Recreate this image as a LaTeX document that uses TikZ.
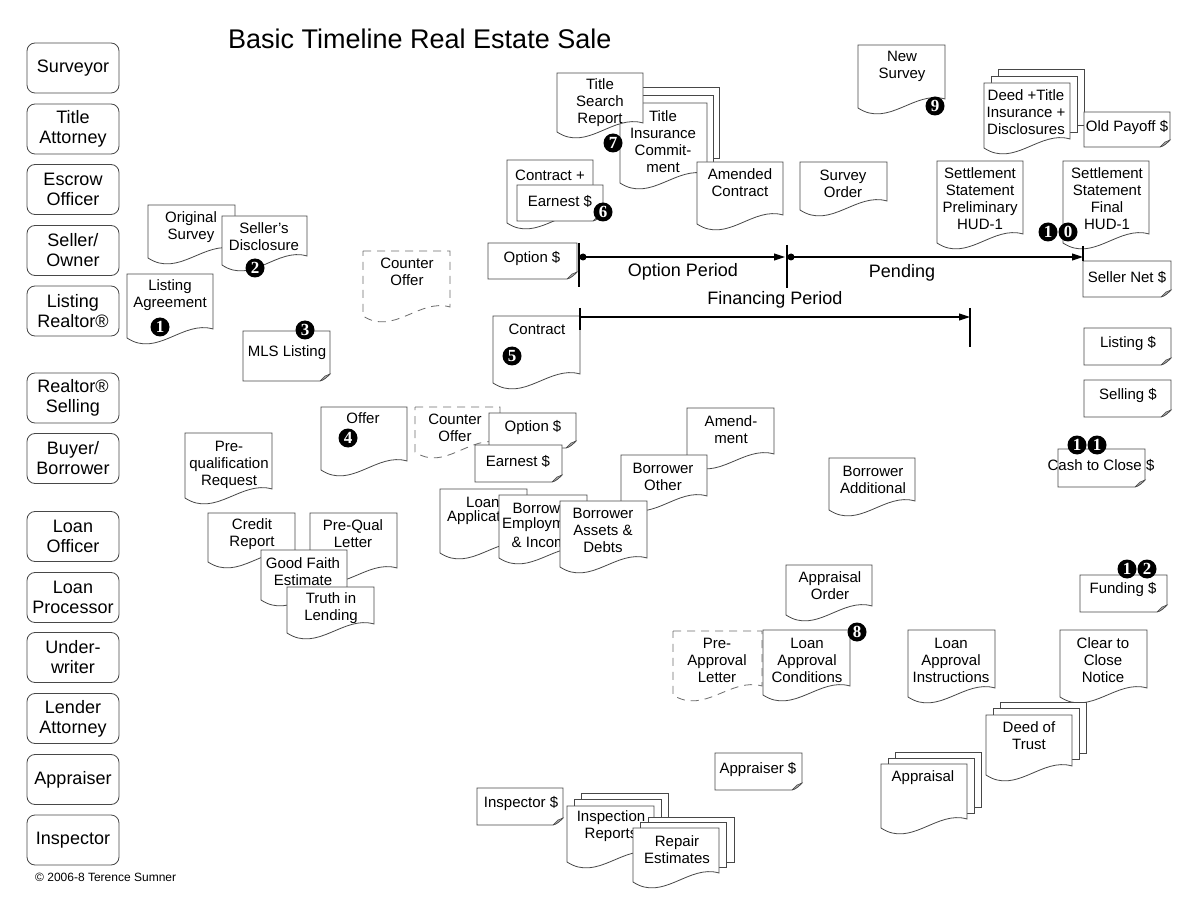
\documentclass[tikz,border=0pt]{standalone}
\usepackage{fontspec}
\setmainfont{Liberation Sans}
\newfontfamily\badgefont{Liberation Serif}
\usetikzlibrary{arrows.meta}
\definecolor{ln}{gray}{0.28}
\tikzset{
  shp/.style={draw=ln, line width=0.8pt, fill=white},
  rolebox/.style={draw=ln, line width=0.8pt, rounded corners=8pt, minimum width=92pt, minimum height=50pt, align=center, inner sep=0pt, font=\fontsize{18}{20}\selectfont},
  dl/.style={align=center, inner sep=0pt, font=\fontsize{15}{17}\selectfont},
  dlw/.style={anchor=west, inner sep=0pt, font=\fontsize{15}{17}\selectfont},
  tl/.style={inner sep=0pt, font=\fontsize{18}{20}\selectfont},
  badge/.style={circle, fill=black, inner sep=0pt, minimum size=19pt, text=white, font=\badgefont\bfseries\fontsize{17}{17}\selectfont},
  dsh/.style={draw=ln!80, dash pattern=on 8pt off 6pt},
  tline/.style={line width=1.1pt, draw=black},
  tip/.style={-{Triangle[length=11pt,width=7pt]}},
}
% document shape: [opts]{L}{T}{R}{B}
\newcommand\docu[5][]{\draw[shp,#1] (#2,#3) -- (#4,#3) -- (#4,{#5-9}) .. controls ({#4-0.35*(#4-#2)},{#5-18}) and ({#2+0.35*(#4-#2)},{#5+20}) .. (#2,#5) -- cycle;}
% note with curled corner: {L}{T}{R}{B}
\newcommand\notebx[4]{%
  \draw[shp] (#1,#2) -- (#3,#2) -- (#3,{#4-7}) .. controls ({#3-3},{#4-4}) and ({#3-6},{#4-1}) .. ({#3-10},#4) -- (#1,#4) -- cycle;
  \draw[draw=ln, line width=0.5pt, fill=black!35] ({#3-10},#4) -- ({#3-5},{#4-5}) -- (#3,{#4-7}) .. controls ({#3-3},{#4-4}) and ({#3-6},{#4-1}) .. ({#3-10},#4);}
% stacked documents: {L}{T}{R}{B}{dx}{dy}
\newcommand\stackdocs[6]{%
  \draw[shp] ({#1+2*#5},{#2-2*#6}) rectangle ({#3+2*#5},{#4-9-2*#6});
  \draw[shp] ({#1+#5},{#2-#6}) rectangle ({#3+#5},{#4-9-#6});
  \docu{#1}{#2}{#3}{#4}}
\begin{document}
\begin{tikzpicture}[x=1pt,y=-1pt]
\useasboundingbox (0,0) rectangle (1200,901);
\fill[white] (0,0) rectangle (1200,901);

% roles
\node[rolebox] (surveyor) at (73,68) {Surveyor};
\node[rolebox] (titleatty) at (73,129) {Title\\Attorney};
\node[rolebox] (escrow) at (73,189.5) {Escrow\\Officer};
\node[rolebox] (seller) at (73,250.5) {Seller/\\Owner};
\node[rolebox] (listrealtor) at (73,311) {Listing\\Realtor®};
\node[rolebox] (sellrealtor) at (73,398) {Realtor®\\Selling};
\node[rolebox] (buyer) at (73,458.5) {Buyer/\\Borrower};
\node[rolebox] (loanofficer) at (73,536.5) {Loan\\Officer};
\node[rolebox] (loanproc) at (73,597.5) {Loan\\Processor};
\node[rolebox] (underwriter) at (73,657.5) {Under-\\writer};
\node[rolebox] (lenderatty) at (73,718.5) {Lender\\Attorney};
\node[rolebox] (appraiser) at (73,779.5) {Appraiser};
\node[rolebox] (inspector) at (73,840) {Inspector};

\node[anchor=base west, inner sep=0pt, font=\fontsize{27}{30}\selectfont] (title) at (228,49) {Basic Timeline Real Estate Sale};
\node[anchor=base west, inner sep=0pt, font=\fontsize{12}{14}\selectfont] (copy) at (35,881) {© 2006-8 Terence Sumner};

% listing stage
\docu{148}{205}{235}{258}
\node[dl] (origsurvey) at (191,227) {Original\\Survey};
\docu{222}{216}{307}{265}
\node[dl] (sellerdisc) at (264,236.5) {Seller's\\Disclosure};
\docu{127}{274}{213}{338}
\node[dl] (listagree) at (170,295.5) {Listing\\Agreement};
\notebx{243}{331}{330}{381}
\node[dl] (mls) at (287,353) {MLS Listing};
\docu[dsh]{363}{251}{450}{316}
\node[dl] (counter1) at (407,271.5) {Counter\\Offer};

% contract area
\notebx{488}{243}{577}{279}
\node[dl] (option1) at (532,259) {Option \$};
\docu{507}{160}{593}{223}
\node[dl] (contractplus) at (550,175) {Contract +};
\notebx{517}{185}{603}{221}
\node[dl] (earnest1) at (560,201) {Earnest \$};
\stackdocs{620}{103}{707}{183}{6}{8}
\node[dl] (titleins) at (663,141.5) {Title\\Insurance\\Commit-\\ment};
\docu{557}{73}{643}{132}
\node[dl] (titlesearch) at (600,103) {Title\\Search\\Report};
\docu{697}{162}{783}{224}
\node[dl] (amended) at (740,183) {Amended\\Contract};
\docu{800}{162}{887}{210}
\node[dl] (surveyorder) at (843,183.5) {Survey\\Order};
\docu{858}{45}{945}{108}
\node[dl] (newsurvey) at (902,66) {New\\Survey};
\stackdocs{984}{83}{1070}{148}{7}{7}
\node[dl] (deedtitle) at (1026,112.5) {Deed +Title\\Insurance +\\Disclosures};
\notebx{1084}{112}{1170}{147}
\node[dl] (oldpayoff) at (1127,128) {Old Payoff \$};
\docu{937}{161}{1023}{243}
\node[dl] (ssprelim) at (980,199) {Settlement\\Statement\\Preliminary\\HUD-1};
\docu{1063}{161}{1149}{243}
\node[dl] (ssfinal) at (1107,199) {Settlement\\Statement\\Final\\HUD-1};
\notebx{1083}{261}{1171}{297}
\node[dl] (sellernet) at (1127,277) {Seller Net \$};
\notebx{1084}{328}{1171}{365}
\node[dl] (listingfee) at (1128,344) {Listing \$};
\notebx{1084}{380}{1171}{417}
\node[dl] (sellingfee) at (1128,396) {Selling \$};
\notebx{1058}{449}{1145}{487}
\node[dl] (cashclose) at (1101,465) {Cash to Close \$};
\notebx{1080}{575}{1167}{612}
\node[dl] (funding) at (1123,590) {Funding \$};

% contract doc + timeline
\docu{493}{316}{580}{383}
\node[dl] (contract) at (537,329) {Contract};
\coordinate (t0) at (583,257);
\coordinate (t1) at (785,257);
\coordinate (t2) at (791,257);
\coordinate (t3) at (1083,257);
\coordinate (f0) at (580,317);
\coordinate (f1) at (970,317);
\draw[tline] (579,243) -- (579,287);
\draw[tline] (787,245) -- (787,288);
\draw[tline] (1083,246) -- (1083,261);
\draw[tline] (580,308) -- (580,330);
\draw[tline] (970,308) -- (970,347);
\draw[tline, tip] (t0) -- (t1);
\draw[tline, tip] (t2) -- (t3);
\draw[tline, tip] (f0) -- (f1);
\fill (t0) circle (3.5pt);
\fill (t2) circle (3.5pt);
\node[tl] (optperiod) at (683,272) {Option Period};
\node[tl] (pending) at (902,273) {Pending};
\node[tl] (finperiod) at (775,300) {Financing Period};

% offer area
\docu{321}{407}{407}{470}
\node[dl] (offer) at (363,418) {Offer};
\docu[dsh]{415}{407}{500}{452}
\node[dl] (counter2) at (455,427.5) {Counter\\Offer};
\notebx{489}{413}{576}{448}
\node[dl] (option2) at (533,428) {Option \$};
\notebx{475}{445}{562}{482}
\node[dl] (earnest2) at (518,461) {Earnest \$};
\docu{687}{408}{774}{463}
\node[dl] (amendment) at (731,429.5) {Amend-\\ment};
\docu{621}{455}{707}{505}
\node[dl] (borrother) at (663,476.5) {Borrower\\Other};
\docu{440}{489}{527}{553}
\node[dlw] (loanapp) at (466,502) {Loan};
\node[dlw] (loanapp2) at (447,518) {Applicat};
\docu{499}{495}{587}{558}
\node[dlw] (borremp) at (512.5,508) {Borrow};
\node[dlw] (borremp2) at (502,525) {Employm};
\node[dlw] (borremp3) at (511.5,542) {\& Incom};
\docu{560}{501}{647}{567}
\node[dl] (borrassets) at (603,530.5) {Borrower\\Assets \&\\Debts};
\docu{829}{458}{915}{510}
\node[dl] (borradd) at (873,479.5) {Borrower\\Additional};

% prequalification
\docu{185}{433}{272}{498}
\node[dl] (prequalreq) at (229,464.5) {Pre-\\qualification\\Request};
\docu{208}{513}{295}{562}
\node[dl] (credit) at (252,534) {Credit\\Report};
\docu{310}{513}{397}{577}
\node[dl] (prequalletter) at (353,534) {Pre-Qual\\Letter};
\docu{261}{550}{347}{600}
\node[dl] (gfe) at (303,571.5) {Good Faith\\Estimate};
\docu{287}{587}{374}{633}
\node[dl] (til) at (331,608.5) {Truth in\\Lending};

% loan approval
\docu{786}{565}{872}{615}
\node[dl] (approrder) at (830,586) {Appraisal\\Order};
\docu[dsh]{673}{631}{762}{695}
\node[dl] (preapproval) at (717,660.5) {Pre-\\Approval\\Letter};
\docu{763}{630}{850}{695}
\node[dl] (loancond) at (807,660) {Loan\\Approval\\Conditions};
\docu{908}{630}{995}{697}
\node[dl] (loaninstr) at (951,660) {Loan\\Approval\\Instructions};
\docu{1060}{630}{1147}{697}
\node[dl] (cleartoclose) at (1103,660) {Clear to\\Close\\Notice};
\stackdocs{986}{715}{1072}{775}{7}{6.5}
\node[dl] (deedtrust) at (1029,735.5) {Deed of\\Trust};
\stackdocs{881}{764}{967}{828}{7}{6}
\node[dl] (appraisal) at (923,778) {Appraisal};
\notebx{715}{753}{802}{790}
\node[dl] (appraiserfee) at (758,770) {Appraiser \$};
\notebx{477}{788}{563}{825}
\node[dl] (inspectorfee) at (521,804) {Inspector \$};
\stackdocs{567}{806}{654}{862}{7}{6.5}
\node[dl] (inspreports) at (611,826.5) {Inspection\\Reports};
\stackdocs{633}{828}{719}{882}{7.5}{5.5}
\node[dl] (repair) at (677,850) {Repair\\Estimates};

% numbered badges
\node[badge] (b1) at (160,327) {1};
\node[badge] (b2) at (255,268) {2};
\node[badge] (b3) at (305,330) {3};
\node[badge] (b4) at (348,438) {4};
\node[badge] (b5) at (512,356) {5};
\node[badge] (b6) at (603,212) {6};
\node[badge] (b7) at (613,143) {7};
\node[badge] (b8) at (857,632) {8};
\node[badge] (b9) at (935,106) {9};
\node[badge] (b10a) at (1048,232) {1};
\node[badge] (b10b) at (1068,232) {0};
\node[badge] (b11a) at (1077,445) {1};
\node[badge] (b11b) at (1097,445) {1};
\node[badge] (b12a) at (1127,569) {1};
\node[badge] (b12b) at (1147,569) {2};
\end{tikzpicture}
\end{document}
